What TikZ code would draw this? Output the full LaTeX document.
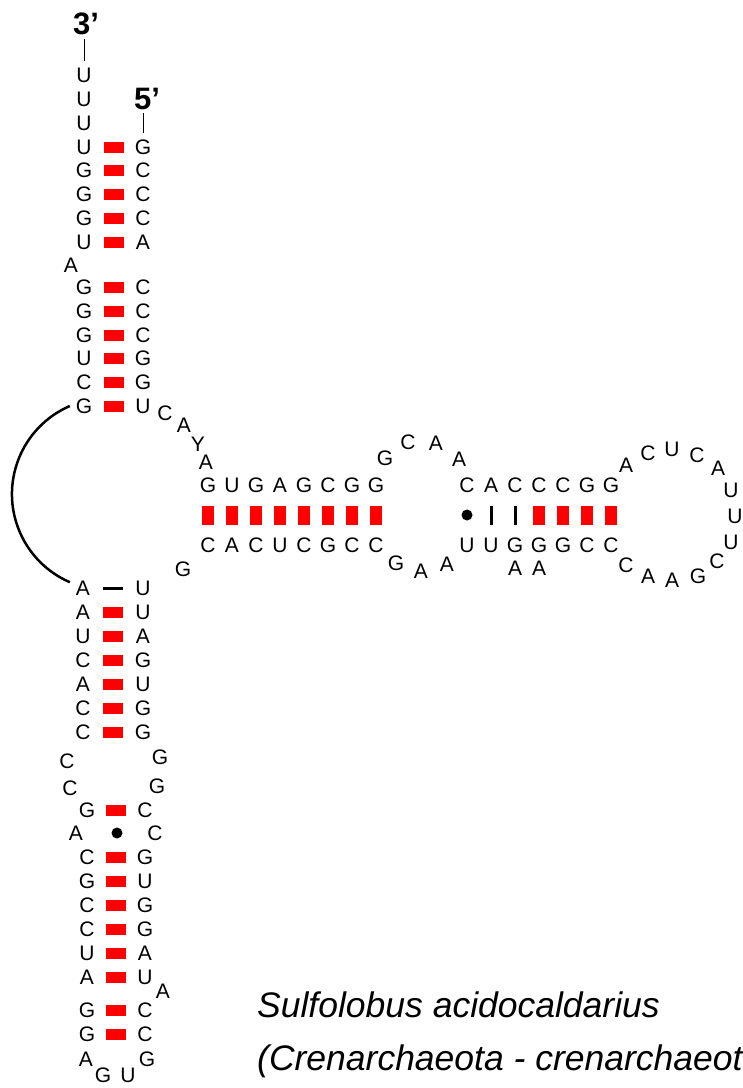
\documentclass[tikz,border=0pt]{standalone}
\usepackage{fontspec}
\setmainfont{Liberation Sans}
\usetikzlibrary{calc}
\tikzset{
  base/.style={inner sep=0pt, outer sep=0pt, text height=15pt, text depth=0pt, font=\fontsize{21}{21}\selectfont},
  endlab/.style={inner sep=0pt, outer sep=0pt, text height=22pt, text depth=0pt, font=\fontsize{31}{31}\selectfont\bfseries},
  wc/.style={fill=red, minimum width=20pt, minimum height=11pt, inner sep=0pt, outer sep=0pt},
  wcv/.style={fill=red, minimum width=12pt, minimum height=19pt, inner sep=0pt, outer sep=0pt},
  auh/.style={fill=black, minimum width=20pt, minimum height=3pt, inner sep=0pt, outer sep=0pt},
  auv/.style={fill=black, minimum width=3pt, minimum height=19pt, inner sep=0pt, outer sep=0pt},
  gu/.style={circle, fill=black, minimum size=11pt, inner sep=0pt, outer sep=0pt},
  tail/.style={line width=0.8pt},
  loopline/.style={line width=2.5pt},
  species/.style={anchor=base west, inner sep=0pt, font=\fontsize{35.5}{35.5}\selectfont\itshape},
}
\newcommand\NT[4]{\node[base] (#1) at (#2,#3) {#4};}
\newcommand\PH[2]{\node[wc] (#1#2) at ($(#1)!0.5!(#2)$) {};}
\newcommand\PV[2]{\node[wcv] (#1#2) at ($(#1)!0.5!(#2)$) {};}
\begin{document}
\begin{tikzpicture}[x=1pt,y=-1pt]
\useasboundingbox (0,0) rectangle (743,1088);
% ---------- ends ----------
\node[endlab] (three) at (86,23) {3’};
\node[endlab] (five) at (147,98) {5’};
% ---------- upper stem, left strand ----------
\NT{a1}{84}{75}{U}
\NT{a2}{84}{99}{U}
\NT{a3}{84}{123}{U}
\NT{a4}{84}{147}{U}
\NT{a5}{84}{170}{G}
\NT{a6}{84}{194}{G}
\NT{a7}{84}{218}{G}
\NT{a8}{84}{242}{U}
\NT{ab}{71}{265}{A}
\NT{a9}{84}{287}{G}
\NT{a10}{84}{311}{G}
\NT{a11}{84}{335}{G}
\NT{a12}{84}{358}{U}
\NT{a13}{84}{382}{C}
\NT{a14}{84}{406}{G}
% ---------- upper stem, right strand ----------
\NT{b1}{143}{147}{G}
\NT{b2}{143}{170}{C}
\NT{b3}{143}{194}{C}
\NT{b4}{143}{218}{C}
\NT{b5}{143}{242}{A}
\NT{b6}{143}{287}{C}
\NT{b7}{143}{311}{C}
\NT{b8}{143}{335}{C}
\NT{b9}{143}{358}{G}
\NT{b10}{143}{382}{G}
\NT{b11}{143}{406}{U}
\PH{a4}{b1}\PH{a5}{b2}\PH{a6}{b3}\PH{a7}{b4}\PH{a8}{b5}
\PH{a9}{b6}\PH{a10}{b7}\PH{a11}{b8}\PH{a12}{b9}\PH{a13}{b10}\PH{a14}{b11}
\draw[tail, shorten <=5pt, shorten >=7pt] (three.south -| a1) -- (a1.north);
\draw[tail, shorten <=4pt, shorten >=7pt] (five.south -| b1) -- (b1.north);
% ---------- junction ----------
\NT{j1}{165}{413}{C}
\NT{j2}{184}{425}{A}
\NT{j3}{198}{444}{Y}
\NT{j4}{206}{462}{A}
% ---------- horizontal stem ----------
\NT{h1}{208}{485}{G}
\NT{h2}{232}{485}{U}
\NT{h3}{256}{485}{G}
\NT{h4}{280}{485}{A}
\NT{h5}{304}{485}{G}
\NT{h6}{328}{485}{C}
\NT{h7}{352}{485}{G}
\NT{h8}{376}{485}{G}
\NT{k1}{208}{545}{C}
\NT{k2}{232}{545}{A}
\NT{k3}{256}{545}{C}
\NT{k4}{280}{545}{U}
\NT{k5}{304}{545}{C}
\NT{k6}{328}{545}{G}
\NT{k7}{352}{545}{C}
\NT{k8}{376}{545}{C}
\PV{h1}{k1}\PV{h2}{k2}\PV{h3}{k3}\PV{h4}{k4}
\PV{h5}{k5}\PV{h6}{k6}\PV{h7}{k7}\PV{h8}{k8}
\NT{g1}{183}{569}{G}
% ---------- internal loop ----------
\NT{l1}{385}{458}{G}
\NT{l2}{408}{442}{C}
\NT{l3}{436}{443}{A}
\NT{l4}{459}{459}{A}
\NT{m1}{396}{563}{G}
\NT{m2}{421}{571}{A}
\NT{m3}{447}{564}{A}
% ---------- second helix ----------
\NT{p1}{467}{485}{C}
\NT{p2}{491}{485}{A}
\NT{p3}{515}{485}{C}
\NT{p4}{539}{485}{C}
\NT{p5}{563}{485}{C}
\NT{p6}{587}{485}{G}
\NT{p7}{611}{485}{G}
\NT{q1}{467}{545}{U}
\NT{q2}{491}{545}{U}
\NT{q3}{515}{545}{G}
\NT{q4}{539}{545}{G}
\NT{q5}{563}{545}{G}
\NT{q6}{587}{545}{C}
\NT{q7}{611}{545}{C}
\node[gu] (p1q1) at ($(p1)!0.5!(q1)$) {};
\node[auv] (p2q2) at ($(p2)!0.5!(q2)$) {};
\node[auv] (p3q3) at ($(p3)!0.5!(q3)$) {};
\PV{p4}{q4}\PV{p5}{q5}\PV{p6}{q6}\PV{p7}{q7}
\NT{r1}{515}{568}{A}
\NT{r2}{539}{568}{A}
% ---------- terminal loop ----------
\NT{o1}{626}{465}{A}
\NT{o2}{648}{453}{C}
\NT{o3}{672}{449}{U}
\NT{o4}{697}{455}{C}
\NT{o5}{718}{468}{A}
\NT{o6}{731}{490}{U}
\NT{o7}{735}{516}{U}
\NT{o8}{731}{542}{U}
\NT{o9}{717}{561}{C}
\NT{o10}{698}{576}{G}
\NT{o11}{672}{580}{A}
\NT{o12}{648}{576}{A}
\NT{o13}{626}{565}{C}
% ---------- lower stem ----------
\NT{c1}{83}{588}{A}
\NT{c2}{83}{612}{A}
\NT{c3}{83}{636}{U}
\NT{c4}{83}{660}{C}
\NT{c5}{83}{684}{A}
\NT{c6}{83}{708}{C}
\NT{c7}{83}{732}{C}
\NT{d1}{143}{588}{U}
\NT{d2}{143}{612}{U}
\NT{d3}{143}{636}{A}
\NT{d4}{143}{660}{G}
\NT{d5}{143}{684}{U}
\NT{d6}{143}{708}{G}
\NT{d7}{143}{732}{G}
\node[auh] (c1d1) at ($(c1)!0.5!(d1)$) {};
\PH{c2}{d2}\PH{c3}{d3}\PH{c4}{d4}\PH{c5}{d5}\PH{c6}{d6}\PH{c7}{d7}
\NT{e1}{67}{761}{C}
\NT{e2}{70}{788}{C}
\NT{f1}{160}{757}{G}
\NT{f2}{157}{786}{G}
% ---------- lower hairpin ----------
\NT{s1}{87}{810}{G}
\NT{sA}{76}{833}{A}
\NT{s2}{87}{857}{C}
\NT{s3}{87}{881}{G}
\NT{s4}{87}{905}{C}
\NT{s5}{87}{929}{C}
\NT{s6}{87}{953}{U}
\NT{s7}{87}{977}{A}
\NT{s8}{87}{1010}{G}
\NT{s9}{87}{1034}{G}
\NT{s10}{86}{1059}{A}
\NT{t1}{145}{810}{C}
\NT{tC}{155}{833}{C}
\NT{t2}{145}{857}{G}
\NT{t3}{145}{881}{U}
\NT{t4}{145}{905}{G}
\NT{t5}{145}{929}{G}
\NT{t6}{145}{953}{A}
\NT{t7}{145}{977}{U}
\NT{tA}{163}{991}{A}
\NT{t8}{145}{1010}{C}
\NT{t9}{145}{1034}{C}
\NT{t10}{147}{1059}{G}
\NT{u1}{103}{1075}{G}
\NT{u2}{128}{1075}{U}
\PH{s1}{t1}
\node[gu] (sAtC) at ($(sA)!0.5!(tC)+(1.5,0)$) {};
\PH{s2}{t2}\PH{s3}{t3}\PH{s4}{t4}\PH{s5}{t5}\PH{s6}{t6}\PH{s7}{t7}
\PH{s8}{t8}\PH{s9}{t9}
% ---------- connecting arc ----------
\draw[loopline] ([xshift=-6pt]a14.west) arc[start angle=113.4, end angle=246.6, radius=96pt];
% ---------- species ----------
\node[species] (sp1) at (257,1017) {Sulfolobus acidocaldarius};
\node[species] (sp2) at (257,1070) {(Crenarchaeota - crenarchaeot};
\end{tikzpicture}
\end{document}
